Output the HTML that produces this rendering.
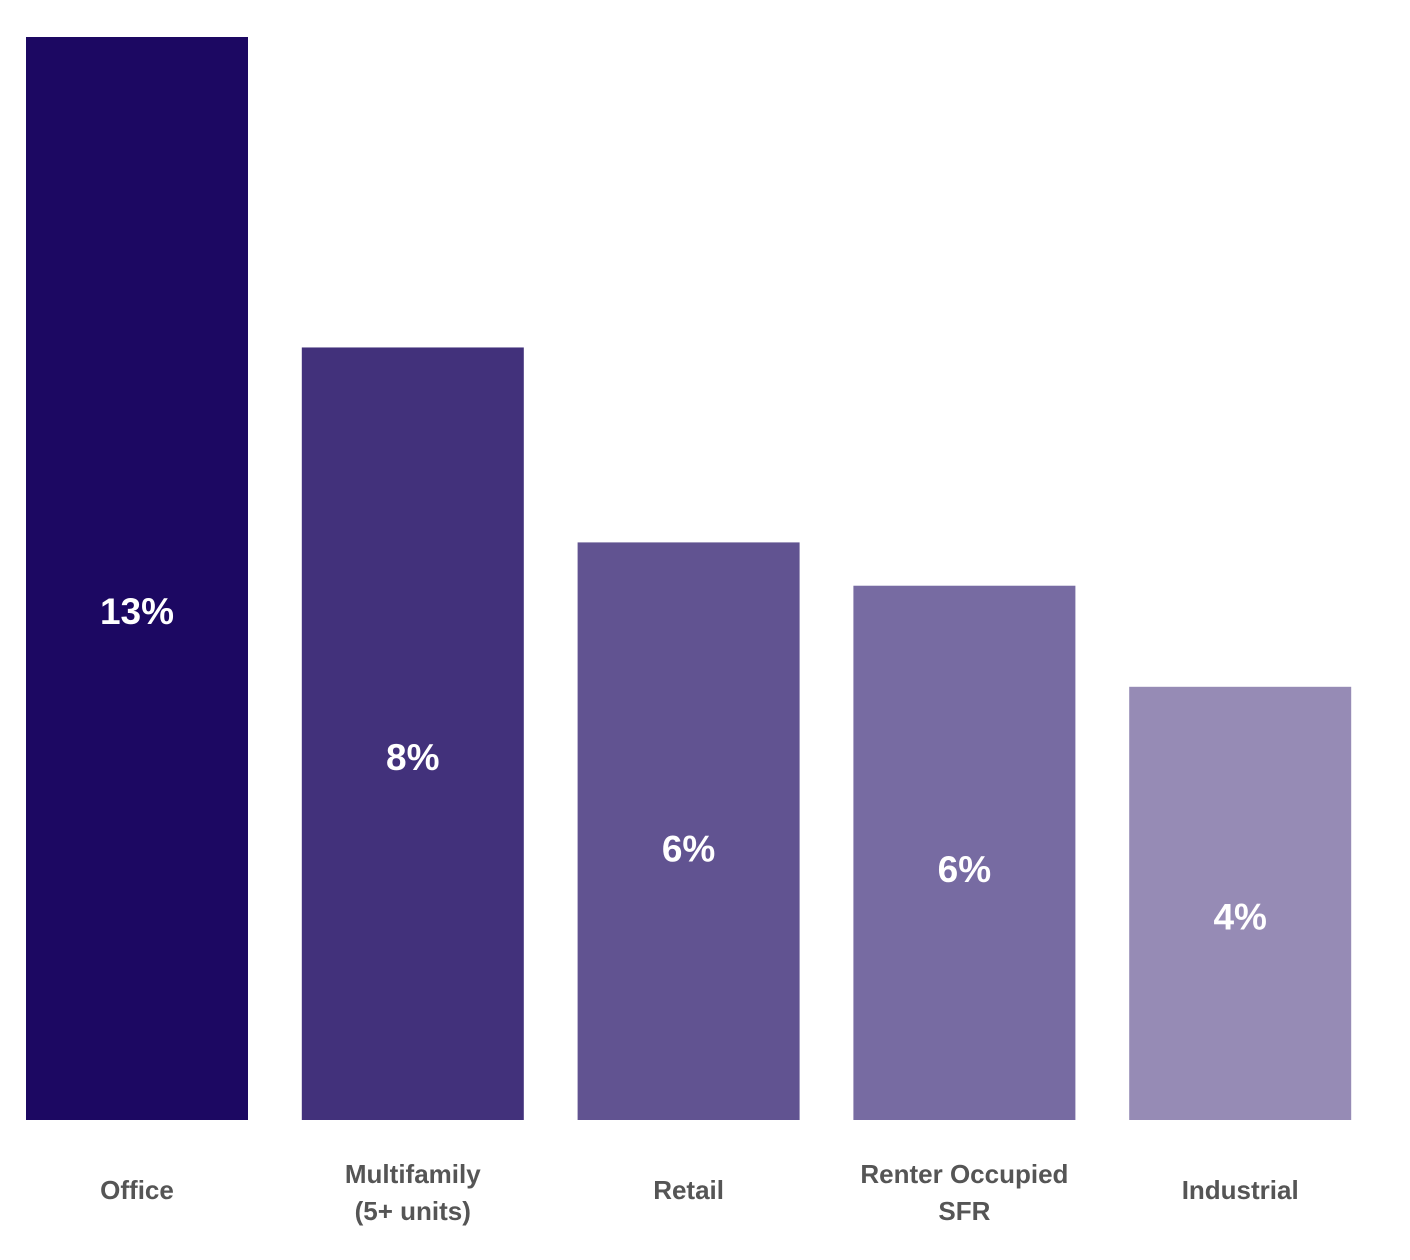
<!DOCTYPE html>
<html><head><meta charset="utf-8"><style>
body{margin:0;background:#fff;}
svg{display:block;font-family:"Liberation Sans",sans-serif;}
</style></head><body>
<svg id="chart" width="1410" height="1260" viewBox="0 0 1410 1260"></svg>
<script>
const categories=[["Office"],["Multifamily","(5+ units)"],["Retail"],["Renter Occupied","SFR"],["Industrial"]];
const values=[13.0,8.7,6.0,5.4,4.0];
const valueLabels=["13%","8%","6%","6%","4%"];
const colors=["#1c0862","#42317b","#615391","#776ba2","#968bb5"];
const svg=document.getElementById('chart');
const NS="http://www.w3.org/2000/svg";
const yMin=-2,yMax=13,plotTop=37,plotBottom=1120;
const y=v=>plotBottom-(v-yMin)/(yMax-yMin)*(plotBottom-plotTop);
const x0=26,step=275.8,bw=222;
const x=i=>x0+i*step;
values.forEach((v,i)=>{
  const r=document.createElementNS(NS,'rect');
  
  
  r.setAttribute('x',x(i));r.setAttribute('y',y(v));
  r.setAttribute('width',bw);r.setAttribute('height',plotBottom-y(v));
  r.setAttribute('fill',colors[i]);
  svg.appendChild(r);
  const t=document.createElementNS(NS,'text');
  
  
  t.setAttribute('x',x(i)+bw/2);
  t.setAttribute('y',y(v)+(plotBottom-y(v))*0.53+13);
  t.setAttribute('text-anchor','middle');t.setAttribute('fill','#fff');
  t.setAttribute('font-size','37');t.setAttribute('font-weight','bold');
  t.textContent=valueLabels[i];
  svg.appendChild(t);
  const lines=categories[i];
  const c=document.createElementNS(NS,'text');
  
  
  c.setAttribute('text-anchor','middle');c.setAttribute('fill','#555');
  c.setAttribute('font-size','26');c.setAttribute('font-weight','bold');
  const baseY=lines.length>1?1183:1199;
  lines.forEach((ln,j)=>{
    const ts=document.createElementNS(NS,'tspan');
    ts.setAttribute('x',x(i)+bw/2);ts.setAttribute('y',baseY+j*37);
    ts.textContent=ln;c.appendChild(ts);
  });
  svg.appendChild(c);
});
</script>
</body></html>
